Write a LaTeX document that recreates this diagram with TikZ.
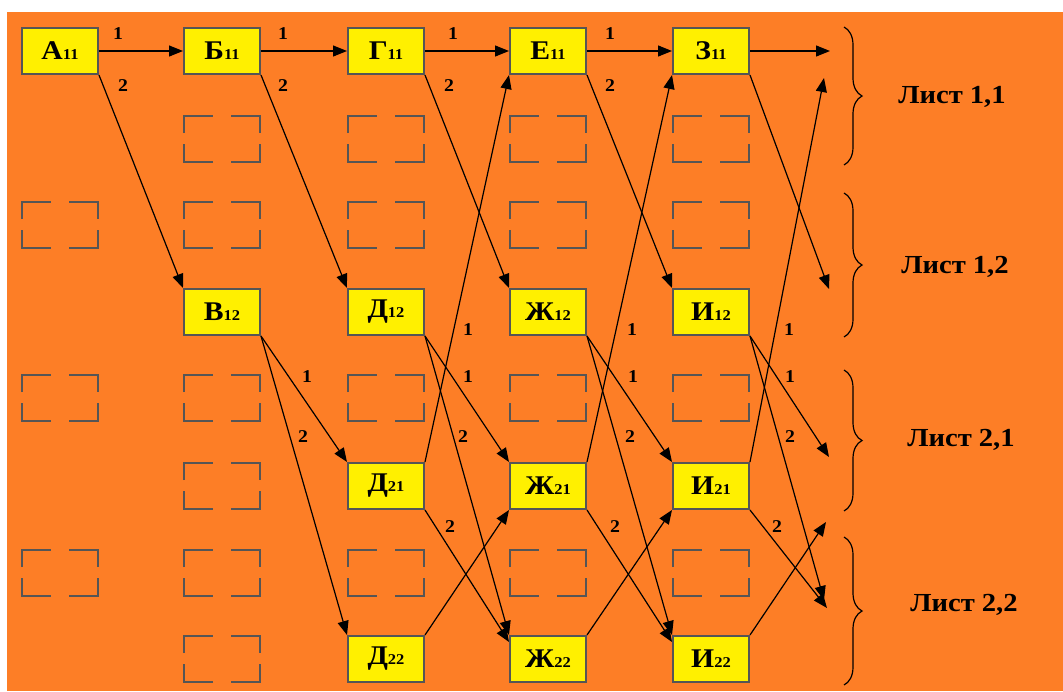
\documentclass[tikz,border=0pt]{standalone}
\usepackage{fontspec}
\setmainfont{Liberation Serif}[FakeStretch=1.1]
\usetikzlibrary{arrows.meta,decorations.pathreplacing}
\definecolor{bgorange}{RGB}{253,126,38}
\definecolor{boxyellow}{RGB}{255,240,0}
\definecolor{boxgray}{RGB}{85,85,85}
\newcommand\lowidx[1]{{\fontsize{15}{15}\selectfont #1}}
\tikzset{
  box/.style={draw=boxgray, line width=2pt, fill=boxyellow, minimum width=76pt,
    minimum height=46pt, inner sep=0pt, font=\fontsize{27}{27}\selectfont\bfseries},
  lab/.style={font=\fontsize{18}{18}\selectfont\bfseries, inner sep=0pt},
  sheet/.style={font=\fontsize{26}{26}\selectfont\bfseries, inner sep=0pt},
  arr/.style={-{Triangle[length=14pt,width=11pt]}, line width=1.2pt, black},
  dline/.style={draw=boxgray, line width=2pt},
  brc/.style={decorate, decoration={brace, amplitude=18pt}, line width=1.2pt, black},
  dbox/.pic={
    \draw[dline] (-38,-6) -- (-38,-23) -- (-9,-23);
    \draw[dline] (9,-23) -- (38,-23) -- (38,-6);
    \draw[dline] (-38,5) -- (-38,23) -- (-9,23);
    \draw[dline] (9,23) -- (38,23) -- (38,5);
  }
}
\begin{document}
\begin{tikzpicture}[x=1pt,y=-1pt]
\useasboundingbox (0,0) rectangle (1063,691);
\fill[white] (0,0) rectangle (1063,691);
\fill[bgorange] (7,12) rectangle (1063,691);

% dashed empty boxes
\foreach \p in {{60,225},{60,398},{60,573},
  {222,139},{222,225},{222,398},{222,486},{222,573},{222,659},
  {386,139},{386,225},{386,398},{386,573},
  {548,139},{548,225},{548,398},{548,573},
  {711,139},{711,225},{711,398},{711,573}}
  \pic at (\p) {dbox};

% boxes
\node[box] (A11) at (60,51) {А\lowidx{11}};
\node[box] (B11) at (222,51) {Б\lowidx{11}};
\node[box] (G11) at (386,51) {Г\lowidx{11}};
\node[box] (E11) at (548,51) {Е\lowidx{11}};
\node[box] (Z11) at (711,51) {З\lowidx{11}};
\node[box] (V12) at (222,312) {В\lowidx{12}};
\node[box] (D12) at (386,312) {Д\lowidx{12}};
\node[box] (Zh12) at (548,312) {Ж\lowidx{12}};
\node[box] (I12) at (711,312) {И\lowidx{12}};
\node[box] (D21) at (386,486) {Д\lowidx{21}};
\node[box] (Zh21) at (548,486) {Ж\lowidx{21}};
\node[box] (I21) at (711,486) {И\lowidx{21}};
\node[box] (D22) at (386,659) {Д\lowidx{22}};
\node[box] (Zh22) at (548,659) {Ж\lowidx{22}};
\node[box] (I22) at (711,659) {И\lowidx{22}};

% free ends
\coordinate (f0) at (830,51);
\coordinate (f1) at (829,289);
\coordinate (f2) at (824,78);
\coordinate (f3) at (829,457);
\coordinate (f4) at (824,600);
\coordinate (f5) at (827,608);
\coordinate (f6) at (826,522);

% row 0 horizontal
\draw[arr] (A11.east) -- (B11.west);
\draw[arr] (B11.east) -- (G11.west);
\draw[arr] (G11.east) -- (E11.west);
\draw[arr] (E11.east) -- (Z11.west);
\draw[arr] (Z11.east) -- (f0);
\node[lab] at (118,34) {1};
\node[lab] at (283,34) {1};
\node[lab] at (453,34) {1};
\node[lab] at (610,34) {1};

% row 0 diagonals
\draw[arr] (A11.south east) -- (V12.north west);
\draw[arr] (B11.south east) -- (D12.north west);
\draw[arr] (G11.south east) -- (Zh12.north west);
\draw[arr] (E11.south east) -- (I12.north west);
\draw[arr] (Z11.south east) -- (f1);
\node[lab] at (123,86) {2};
\node[lab] at (283,86) {2};
\node[lab] at (449,86) {2};
\node[lab] at (610,86) {2};

% up arrows from row 5
\draw[arr] (D21.north east) -- (E11.south west);
\draw[arr] (Zh21.north east) -- (Z11.south west);
\draw[arr] (I21.north east) -- (f2);
\node[lab] at (468,330) {1};
\node[lab] at (632,330) {1};
\node[lab] at (789,330) {1};

% from row 3
\draw[arr] (V12.south east) -- (D21.north west);
\draw[arr] (V12.south east) -- (D22.north west);
\draw[arr] (D12.south east) -- (Zh21.north west);
\draw[arr] (D12.south east) -- (Zh22.north west);
\draw[arr] (Zh12.south east) -- (I21.north west);
\draw[arr] (Zh12.south east) -- (I22.north west);
\draw[arr] (I12.south east) -- (f3);
\draw[arr] (I12.south east) -- (f4);
\node[lab] at (307,377) {1};
\node[lab] at (303,437) {2};
\node[lab] at (468,377) {1};
\node[lab] at (463,437) {2};
\node[lab] at (633,377) {1};
\node[lab] at (630,437) {2};
\node[lab] at (790,377) {1};
\node[lab] at (790,437) {2};

% from row 5 down
\draw[arr] (D21.south east) -- ([yshift=-7pt]Zh22.north west);
\draw[arr] (Zh21.south east) -- ([yshift=-7pt]I22.north west);
\draw[arr] (I21.south east) -- (f5);
\node[lab] at (450,527) {2};
\node[lab] at (615,527) {2};
\node[lab] at (777,527) {2};

% from row 7 up
\draw[arr] (D22.north east) -- (Zh21.south west);
\draw[arr] (Zh22.north east) -- (I21.south west);
\draw[arr] (I22.north east) -- (f6);

% braces
\draw[brc] (844,27) -- (844,165);
\draw[brc] (844,193) -- (844,337);
\draw[brc] (844,370) -- (844,511);
\draw[brc] (844,537) -- (844,685);

% sheet labels
\node[sheet] (L11) at (952,97) {Лист 1,1};
\node[sheet] (L12) at (955,267) {Лист 1,2};
\node[sheet] (L21) at (961,440) {Лист 2,1};
\node[sheet] (L22) at (964,605) {Лист 2,2};
\end{tikzpicture}
\end{document}
